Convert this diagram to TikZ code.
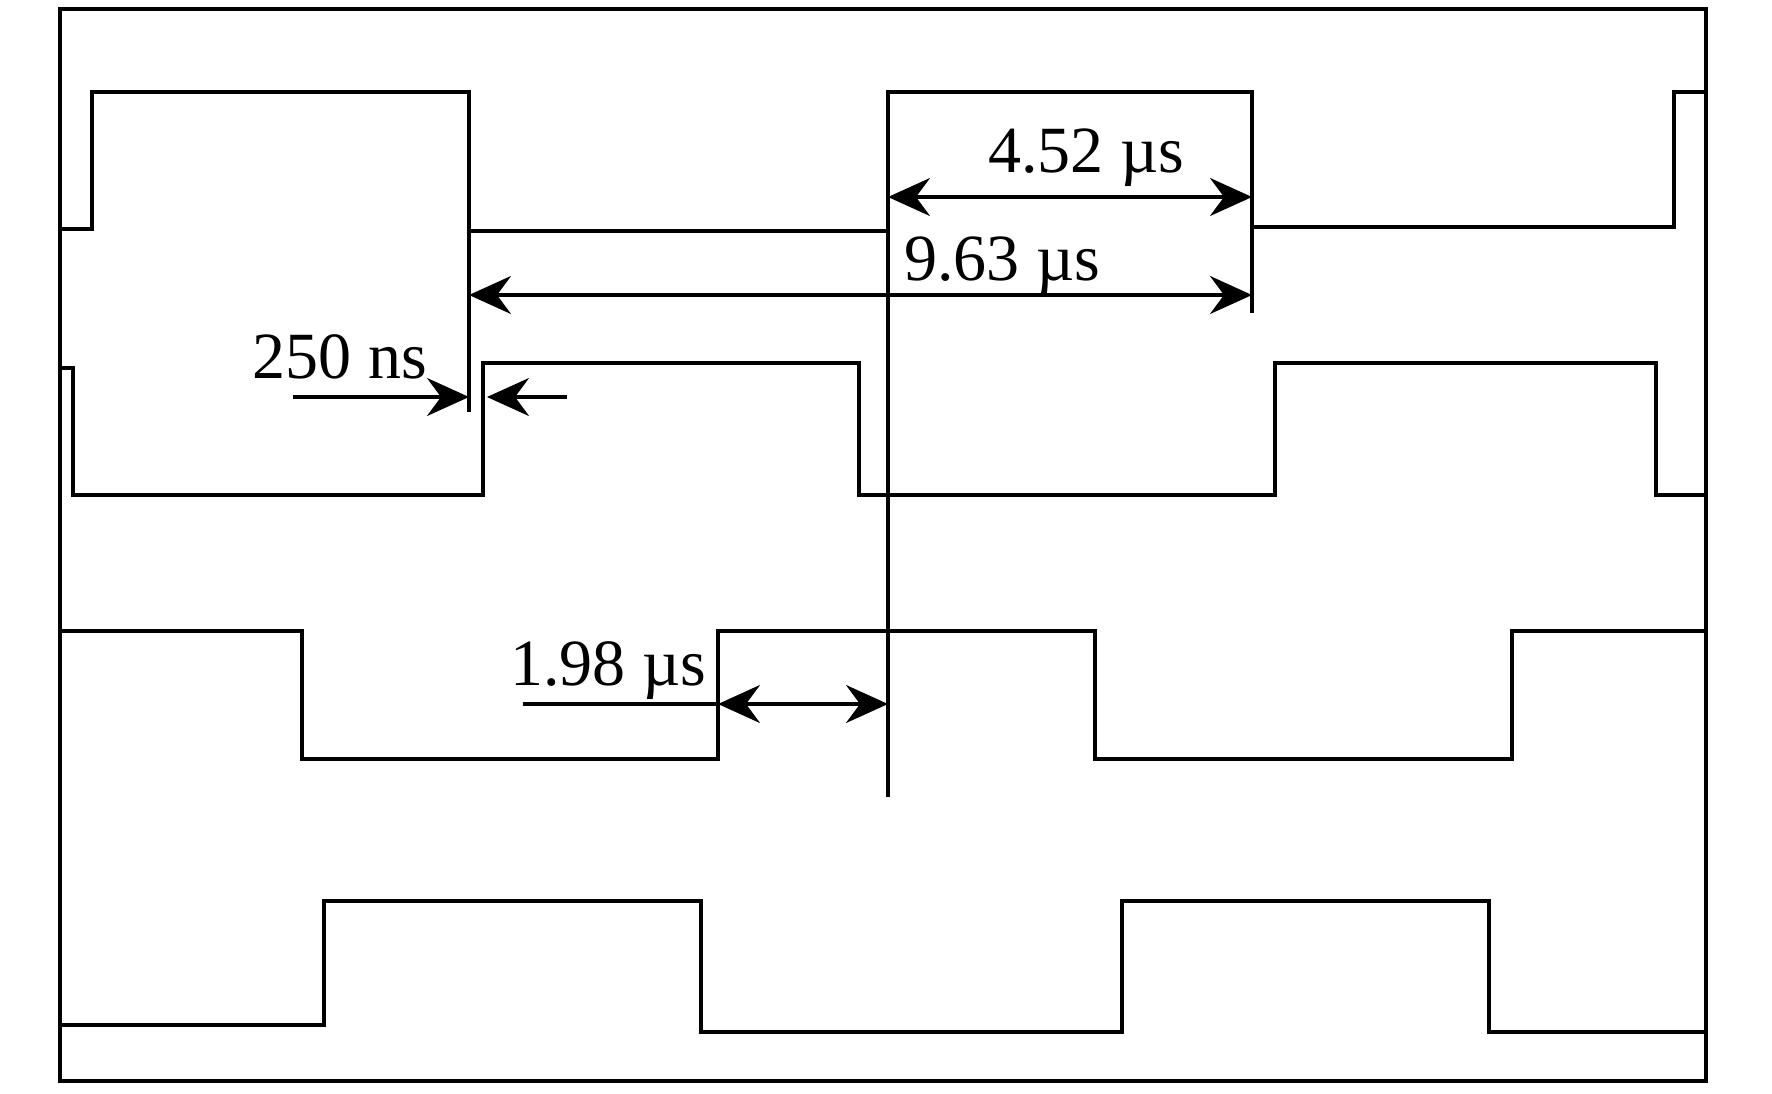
\documentclass[tikz,border=0pt]{standalone}
\usepackage{fontspec}
\setmainfont{Liberation Serif}
\usetikzlibrary{arrows.meta}
\usetikzlibrary{positioning}

\tikzset{
  trace/.style={black, line width=1.7pt},
  dimlabel/.style={anchor=base, inner sep=0pt, font=\fontsize{33}{36}\selectfont},
  tipright/.style={line width=1.7pt, -{Stealth[length=21pt,width=19pt,inset=7pt]}},
  tipboth/.style={line width=1.7pt, {Stealth[length=21pt,width=19pt,inset=7pt]}-{Stealth[length=21pt,width=19pt,inset=7pt]}}
}

\begin{document}
\begin{tikzpicture}[x=0.5pt,y=0.5pt,yscale=-1,xscale=1]

\useasboundingbox (0,0) rectangle (1772,1093);

% Frame
\draw   [trace] (60,9) rectangle (1706,1081) ;

% Trace 1
\draw   [trace] (60,229) -- (92,229) -- (92,92) -- (469,92) -- (469,231) -- (888,231) -- (888,92) -- (1252,92) -- (1252,227) -- (1674,227) -- (1674,92) -- (1706,92) ;

% Trace 2
\draw   [trace] (60,368) -- (73,368) -- (73,495) -- (483,495) -- (483,363) -- (859,363) -- (859,495) -- (1275,495) -- (1275,363) -- (1656,363) -- (1656,495) -- (1706,495) ;

% Trace 3
\draw   [trace] (60,631) -- (302,631) -- (302,759) -- (718,759) -- (718,631) -- (1095,631) -- (1095,759) -- (1512,759) -- (1512,631) -- (1706,631) ;

% Trace 4
\draw   [trace] (60,1025) -- (324,1025) -- (324,901) -- (701,901) -- (701,1032) -- (1122,1032) -- (1122,901) -- (1489,901) -- (1489,1032) -- (1706,1032) ;

% Marker lines
\coordinate (m1t) at (469,231);
\coordinate (m1b) at (469,412);
\coordinate (m2t) at (888,231);
\coordinate (m2b) at (888,797);
\coordinate (m3t) at (1252,227);
\coordinate (m3b) at (1252,313);
\draw   [trace] (m1t) -- (m1b) ;
\draw   [trace] (m2t) -- (m2b) ;
\draw   [trace] (m3t) -- (m3b) ;

% Dimension ends
\coordinate (a1) at (888,197);
\coordinate (a2) at (1252,197);
\coordinate (b1) at (469,295);
\coordinate (b2) at (1252,295);
\coordinate (c1) at (293,397);
\coordinate (c2) at (469,397);
\coordinate (c3) at (567,397);
\coordinate (c4) at (487,397);
\coordinate (d1) at (523,704);
\coordinate (d2) at (718,704);
\coordinate (d3) at (888,704);

% Dimension Arrows
\draw   [tipboth]  (a1) -- (a2) ;
\draw   [tipboth]  (b1) -- (b2) ;
\draw   [tipright] (c1) -- (c2) ;
\draw   [tipright] (c3) -- (c4) ;
\draw   [trace]    (d1) -- (d2) ;
\draw   [tipboth]  (d2) -- (d3) ;

% Dimension Labels
\node   [dimlabel] (t452) at (1086,172) {4.52 µs};
\node   [dimlabel] (t963) at (1002,280) {9.63 µs};
\node   [dimlabel] (t250) at (340,378)  {250 ns};
\node   [dimlabel] (t198) at (608,685)  {1.98 µs};

\end{tikzpicture}
\end{document}
